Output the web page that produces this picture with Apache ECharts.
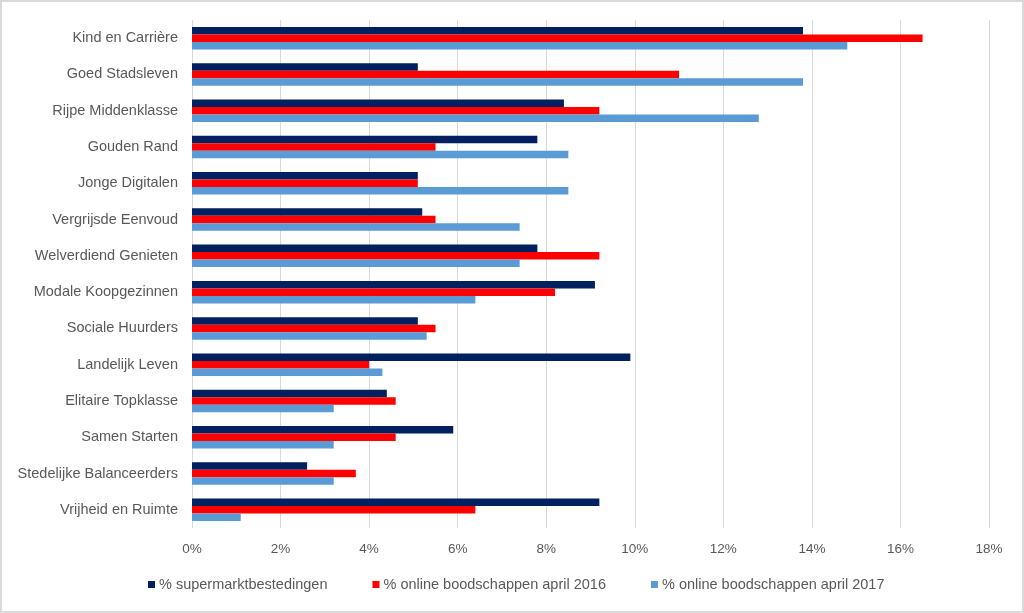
<!DOCTYPE html>
<html>
<head>
<meta charset="utf-8">
<script src="https://cdn.jsdelivr.net/npm/echarts@6/dist/echarts.min.js"></script>
<style>
html,body{margin:0;padding:0;background:#fff;}
#c{width:1024px;height:613px;box-sizing:border-box;border:2px solid #d9d9d9;}
</style>
</head>
<body>
<div id="c"></div>
<script>
const categories = ["Kind en Carrière","Goed Stadsleven","Rijpe Middenklasse","Gouden Rand","Jonge Digitalen","Vergrijsde Eenvoud","Welverdiend Genieten","Modale Koopgezinnen","Sociale Huurders","Landelijk Leven","Elitaire Topklasse","Samen Starten","Stedelijke Balanceerders","Vrijheid en Ruimte"];
const supermarkt = [13.8,5.1,8.4,7.8,5.1,5.2,7.8,9.1,5.1,9.9,4.4,5.9,2.6,9.2];
const online2016 = [16.5,11.0,9.2,5.5,5.1,5.5,9.2,8.2,5.5,4.0,4.6,4.6,3.7,6.4];
const online2017 = [14.8,13.8,12.8,8.5,8.5,7.4,7.4,6.4,5.3,4.3,3.2,3.2,3.2,1.1];
const seriesNames = ["% supermarktbestedingen","% online boodschappen april 2016","% online boodschappen april 2017"];
const xTicks = [0,2,4,6,8,10,12,14,16,18];

const chart = echarts.init(document.getElementById('c'));
const font = "Liberation Sans";
const colors = ["#002060","#FF0000","#5B9BD5"];
const data = [supermarkt, online2016, online2017];
chart.setOption({
  animation:false,
  textStyle:{fontFamily:font},
  grid:{left:190,right:33,top:18,bottom:83,containLabel:false},
  legend:{
    data:seriesNames, bottom:14, left:141, itemWidth:7, itemHeight:7, itemGap:45,
    icon:'rect',
    textStyle:{color:'#595959',fontSize:14.5,fontFamily:font,padding:[0,0,0,-1]}
  },
  xAxis:{
    type:'value', min:xTicks[0], max:xTicks[xTicks.length-1], interval:2,
    axisLabel:{formatter:v=>v+'%',color:'#595959',fontSize:13.5,margin:14},
    splitLine:{lineStyle:{color:'#d9d9d9',width:1}},
    axisLine:{show:false},axisTick:{show:false}
  },
  yAxis:{
    type:'category', data:categories, inverse:true,
    axisLabel:{color:'#595959',fontSize:14.5,margin:14},
    axisLine:{show:false},axisTick:{show:false}
  },
  series: seriesNames.map((n,i)=>({
    name:n, type:'bar', data:data[i], barGap:'0%', barCategoryGap:'38%',
    itemStyle:{color:colors[i]}
  }))
});
</script>
</body>
</html>
